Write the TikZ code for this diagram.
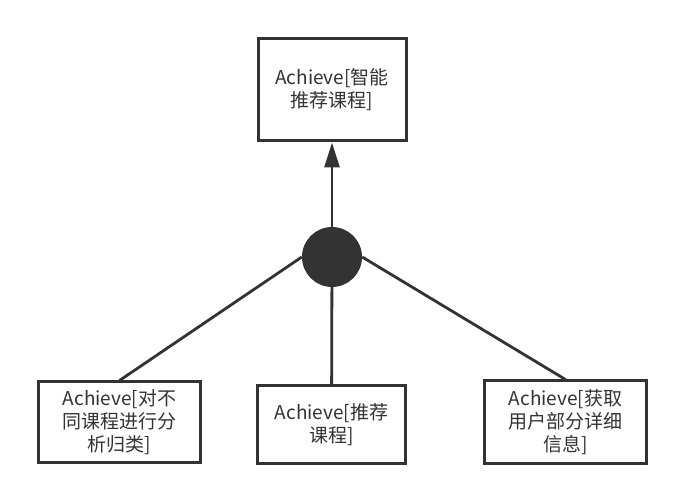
\documentclass[tikz,border=0pt]{standalone}
\usepackage{fontspec}
\setmainfont{Noto Sans CJK SC}
\usetikzlibrary{arrows.meta}
\definecolor{ink}{HTML}{333333}
\begin{document}
\begin{tikzpicture}[x=1pt,y=-1pt,
  goal/.style={draw=ink,line width=3pt,fill=white,text=ink,align=center,inner sep=0pt,font=\fontsize{19}{23}\selectfont},
  link/.style={draw=ink,line width=2.8pt}]
\useasboundingbox[fill=white] (0,0) rectangle (683,502);
\node[goal,minimum width=148pt,minimum height=102pt](top) at (332,90){Achieve[智能\\推荐课程]};
\node[circle,fill=ink,minimum size=60pt,inner sep=0pt](and) at (332,257){};
\node[goal,minimum width=162pt,minimum height=81pt](left) at (119.5,422.5){Achieve[对不\\同课程进行分\\析归类]};
\node[goal,minimum width=148pt,minimum height=78pt](mid) at (331.5,425){Achieve[推荐\\课程]};
\node[goal,minimum width=162pt,minimum height=83pt](right) at (565.5,422.5){Achieve[获取\\用户部分详细\\信息]};
\draw[link,-{Triangle[length=25pt,width=15pt]}](and)--(top);
\draw[link](and.west)--(left.north);
\draw[link](and)--(mid);
\draw[link](and.east)--(right.north);
\end{tikzpicture}
\end{document}
